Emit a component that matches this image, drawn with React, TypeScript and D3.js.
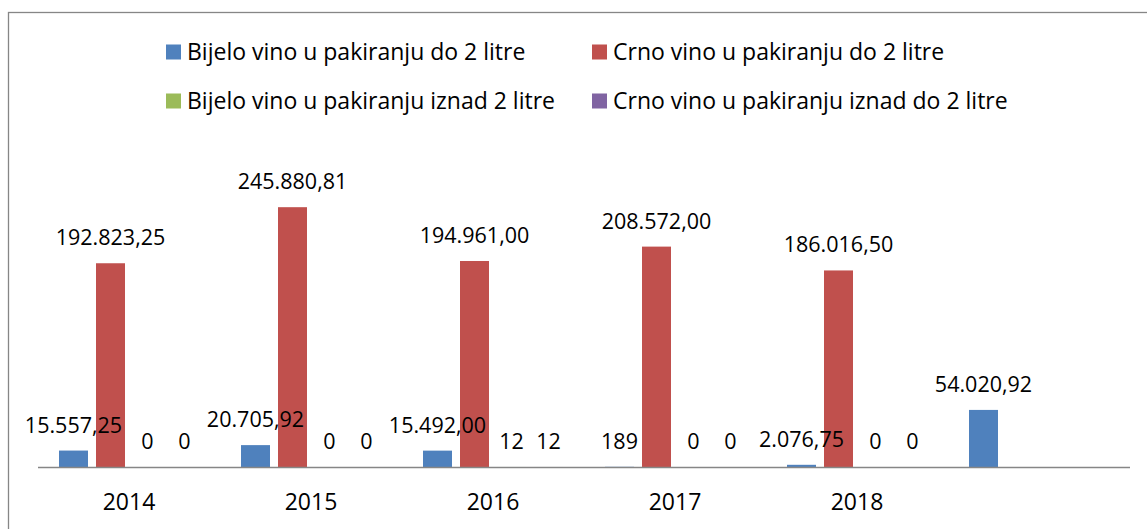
import { useEffect, useRef } from 'react'
import * as d3 from 'd3'

const categories = ['2014', '2015', '2016', '2017', '2018', '']
const seriesNames = [
  'Bijelo vino u pakiranju do 2 litre',
  'Crno vino u pakiranju do 2 litre',
  'Bijelo vino u pakiranju iznad 2 litre',
  'Crno vino u pakiranju iznad do 2 litre'
]
const bijeloDo2 = [15557.25, 20705.92, 15492.0, 189, 2076.75, 54020.92]
const crnoDo2 = [192823.25, 245880.81, 194961.0, 208572.0, 186016.5, null]
const bijeloIznad2 = [0, 0, 12, 0, 0, null]
const crnoIznad2 = [0, 0, 12, 0, 0, null]
const colors = ['#4F81BD', '#C0504D', '#9BBB59', '#8064A2']

const FONT = "'Open Sans', 'Noto Sans', sans-serif"

const App = () => {
  const svgRef = useRef<SVGSVGElement>(null)

  useEffect(() => {
    const W = 1147
    const H = 529
    const svg = d3.select(svgRef.current)
    svg.selectAll('*').remove()
    svg.attr('width', W).attr('height', H)

    svg.append('rect')
      .attr('x', 0).attr('y', 0).attr('width', W).attr('height', H)
      .attr('fill', '#fff')

    // chart border (runs past the right and bottom edges)
    svg.append('rect')
      .attr('x', 8.5).attr('y', 12.5)
      .attr('width', W + 20).attr('height', H + 20)
      .attr('fill', 'none')
      .attr('stroke', '#868686')
      .attr('stroke-width', 1.3)

    const series = [bijeloDo2, crnoDo2, bijeloIznad2, crnoIznad2]
    const baseY = 467

    const x0 = d3.scaleBand().domain(categories).range([38, 1130])
    const x1 = d3.scaleBand()
      .domain(d3.range(4).map(String))
      .range([21, 161])
      .paddingInner(8 / 37)
    const y = d3.scaleLinear().domain([0, 300000]).range([baseY, 150])

    const locale = d3.formatLocale({ decimal: ',', thousands: '.', grouping: [3], currency: ['', ''] })
    const fmt = locale.format(',.2f')
    const label = (v: number) => (v >= 1000 ? fmt(v) : String(v))

    const data = series.map((vals, si) => categories
      .map((c, i) => ({ c, v: vals[i], si }))
      .filter(d => d.v !== null) as { c: string; v: number; si: number }[])

    const bars = svg.append('g')
    const labels = svg.append('g')

    data.forEach((rows, si) => {
      bars.selectAll(`rect.s${si}`)
        .data(rows)
        .enter()
        .append('rect')
        .attr('class', `s${si}`)
        .attr('x', d => x0(d.c)! + x1(String(si))!)
        .attr('y', d => y(d.v))
        .attr('width', x1.bandwidth())
        .attr('height', d => baseY - y(d.v))
        .attr('fill', colors[si])

      labels.selectAll(`text.s${si}`)
        .data(rows)
        .enter()
        .append('text')
        .attr('class', `s${si}`)
        .attr('x', d => x0(d.c)! + x1(String(si))! + x1.bandwidth() / 2)
        .attr('y', d => y(d.v) - 18)
        .attr('text-anchor', 'middle')
        .attr('font-family', FONT)
        .attr('font-size', 21.5)
        .attr('fill', '#000')
        .text(d => label(d.v))
    })

    // category axis
    svg.append('line')
      .attr('x1', 38).attr('x2', 1130)
      .attr('y1', baseY + 0.5).attr('y2', baseY + 0.5)
      .attr('stroke', '#868686')
      .attr('stroke-width', 1.5)

    svg.append('g')
      .selectAll('text')
      .data(categories)
      .enter()
      .append('text')
      .attr('x', d => x0(d)! + x0.bandwidth() / 2)
      .attr('y', 510)
      .attr('text-anchor', 'middle')
      .attr('font-family', FONT)
      .attr('font-size', 23)
      .attr('fill', '#000')
      .text(d => d)

    // legend
    const legendPos = [
      { x: 166, y: 52 },
      { x: 592, y: 52 },
      { x: 166, y: 101 },
      { x: 592, y: 101 }
    ]
    const legend = svg.append('g')
      .selectAll('g')
      .data(seriesNames)
      .enter()
      .append('g')
      .attr('transform', (d, i) => `translate(${legendPos[i].x},${legendPos[i].y})`)

    legend.append('rect')
      .attr('x', 0).attr('y', -7.5)
      .attr('width', 15).attr('height', 15)
      .attr('fill', (d, i) => colors[i])

    legend.append('text')
      .attr('x', 21)
      .attr('y', 8)
      .attr('font-family', FONT)
      .attr('font-size', 23)
      .attr('fill', '#000')
      .text(d => d)
  }, [])

  return <svg ref={svgRef} style={{ position: 'absolute', left: 0, top: 0, display: 'block' }}></svg>
}

export default App
